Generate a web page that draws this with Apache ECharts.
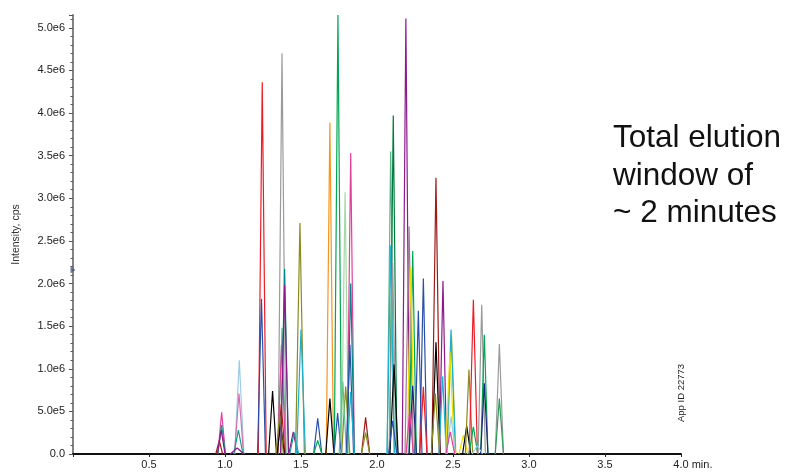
<!DOCTYPE html>
<html>
<head>
<meta charset="utf-8">
<title>Chromatogram</title>
<script src="https://cdn.jsdelivr.net/npm/echarts@6/dist/echarts.min.js"></script>
<style>
  html, body { margin: 0; padding: 0; background: #fff; }
  #chart { width: 791px; height: 474px; }
</style>
</head>
<body>
<div id="chart"></div>
<script>
// peak apex times (min), apex heights (cps), base widths (min)
const peakTimes = [
  0.962, 0.978, 0.978, 0.975, 1.094, 1.092, 1.088, 1.080,
  1.245, 1.240, 1.313, 1.375, 1.375, 1.372, 1.370, 1.366, 1.360, 1.392, 1.392, 1.449, 1.455, 1.493, 1.500,
  1.610, 1.610, 1.690, 1.690, 1.743, 1.741, 1.790, 1.794, 1.775, 1.827, 1.827, 1.822, 1.827, 1.925, 1.925,
  2.090, 2.107, 2.090, 2.103, 2.112, 2.103, 2.190, 2.211, 2.235, 2.222, 2.235, 2.215, 2.272, 2.305, 2.305,
  2.388, 2.388, 2.384, 2.434, 2.432, 2.490, 2.487, 2.480, 2.487, 2.482,
  2.568, 2.590, 2.605, 2.634, 2.634, 2.689, 2.706, 2.706, 2.660, 2.805, 2.805
]
const peakHeights = [
  0.16e6, 0.49e6, 0.34e6, 0.28e6, 1.10e6, 0.71e6, 0.28e6, 0.07e6,
  4.36e6, 1.82e6, 0.74e6, 4.70e6, 1.48e6, 1.28e6, 0.59e6, 0.36e6, 0.46e6, 2.17e6, 1.98e6, 0.26e6, 0.25e6, 2.71e6, 1.46e6,
  0.42e6, 0.16e6, 3.89e6, 0.65e6, 5.15e6, 0.48e6, 3.07e6, 0.79e6, 0.85e6, 3.53e6, 2.00e6, 1.28e6, 0.73e6, 0.43e6, 0.25e6,
  3.55e6, 3.97e6, 2.45e6, 2.24e6, 1.05e6, 0.39e6, 5.11e6, 2.67e6, 2.38e6, 2.19e6, 0.80e6, 0.50e6, 1.68e6, 2.06e6, 0.79e6,
  3.24e6, 1.31e6, 0.71e6, 2.03e6, 0.91e6, 1.40e6, 1.46e6, 1.20e6, 0.44e6, 0.26e6,
  0.22e6, 0.33e6, 0.99e6, 1.81e6, 0.32e6, 1.75e6, 1.40e6, 0.83e6, 0.10e6, 1.29e6, 0.65e6
]
const peakWidths = [
  0.045, 0.050, 0.050, 0.050, 0.060, 0.060, 0.060, 0.090,
  0.052, 0.052, 0.052, 0.052, 0.052, 0.052, 0.048, 0.048, 0.048, 0.052, 0.052, 0.058, 0.058, 0.058, 0.058,
  0.054, 0.054, 0.048, 0.054, 0.048, 0.048, 0.048, 0.054, 0.048, 0.048, 0.048, 0.048, 0.048, 0.054, 0.054,
  0.048, 0.048, 0.048, 0.048, 0.054, 0.054, 0.048, 0.054, 0.048, 0.048, 0.048, 0.048, 0.048, 0.048, 0.048,
  0.054, 0.054, 0.054, 0.048, 0.048, 0.058, 0.058, 0.058, 0.058, 0.058,
  0.058, 0.054, 0.048, 0.054, 0.058, 0.048, 0.048, 0.048, 0.070, 0.054, 0.054
]
const peakColors = [
  '#9b1b1b', '#e0409a', '#1a9a8a', '#8b1a8b', '#9ccbe8', '#d070b0', '#1a9a8a', '#8b1a8b',
  '#ee1c25', '#2b4fa8', '#000000', '#9a9a9a', '#5fc08a', '#e0409a', '#b01818', '#000000', '#8a8a20', '#00858a', '#8b1a8b', '#8b1a8b', '#1a9a8a', '#8a8a20', '#1ab0d0',
  '#2b4fa8', '#00a651', '#f7931e', '#000000', '#00a651', '#2b4fa8', '#a8d8a8', '#8a8a20', '#5fc08a', '#e0409a', '#00858a', '#2b4fa8', '#1ab0d0', '#9b1b1b', '#8a8a20',
  '#5fb38a', '#007a3d', '#1ab0d0', '#9a9a9a', '#000000', '#2b4fa8', '#8b1a8b', '#a07898', '#00a651', '#f0e000', '#1a237e', '#e0409a', '#2b4fa8', '#2b4fa8', '#ee1c25',
  '#9b1b1b', '#000000', '#8a8a20', '#8b1a8b', '#1ab0d0', '#b8c040', '#1ab0d0', '#f0e000', '#9ccbe8', '#e0409a',
  '#f0e000', '#000000', '#8a8a20', '#ee1c25', '#00a651', '#9a9a9a', '#00a651', '#1a237e', '#9ccbe8', '#9a9a9a', '#2e9a5a'
]

const axisMarker = [[0, 2.16e6]]

const xTicks = { min: 0, max: 4, step: 0.5 }
const yTicks = { min: 0, max: 5.15e6, step: 5e5 }

const chart = echarts.init(document.getElementById('chart'), null, { renderer: 'canvas' })

const peakSeries = peakTimes.map((t, i) => ({
  type: 'line',
  data: [[t - peakWidths[i] / 2, 0], [t, peakHeights[i]], [t + peakWidths[i] / 2, 0]],
  symbol: 'none',
  silent: true,
  lineStyle: { color: peakColors[i], width: 1.2 },
  z: 2
}))

const fmtY = v => (v === 0 ? '0.0' : v.toExponential(1).replace('e+', 'e'))
const fmtX = v => {
  if (v === 0) return ''
  if (v === 4) return '{h|min. }4.0 min.'
  return v.toFixed(1)
}

chart.setOption({
  animation: false,
  textStyle: { fontFamily: 'Liberation Sans, Arial, sans-serif' },
  grid: { left: 73, right: 110, top: 15, bottom: 20 },
  xAxis: {
    type: 'value',
    min: xTicks.min,
    max: xTicks.max,
    interval: xTicks.step,
    splitLine: { show: false },
    axisLine: { lineStyle: { color: '#111', width: 2 } },
    axisTick: { length: 3, lineStyle: { color: '#222' } },
    axisLabel: {
      formatter: fmtX,
      color: '#222',
      fontSize: 11,
      margin: 5,
      showMinLabel: true,
      showMaxLabel: true,
      rich: { h: { color: 'transparent', fontSize: 11 } }
    }
  },
  yAxis: {
    type: 'value',
    min: yTicks.min,
    max: yTicks.max,
    interval: yTicks.step,
    name: 'Intensity, cps',
    nameLocation: 'middle',
    nameGap: 51,
    nameTextStyle: { fontSize: 10.5, color: '#333' },
    splitLine: { show: false },
    axisLine: { show: true, lineStyle: { color: '#777', width: 1.8 } },
    axisTick: { length: 4, lineStyle: { color: '#555' } },
    minorTick: { show: true, splitNumber: 5, length: 2.5, lineStyle: { color: '#555' } },
    axisLabel: { formatter: fmtY, color: '#222', fontSize: 11, margin: 8, showMaxLabel: false }
  },
  series: [
    ...peakSeries,
    {
      type: 'scatter',
      data: axisMarker,
      symbol: 'triangle',
      symbolSize: [7, 5],
      symbolRotate: -90,
      clip: false,
      silent: true,
      itemStyle: { color: '#4a5a80' },
      z: 5
    }
  ],
  graphic: [
    {
      type: 'text',
      left: 613,
      top: 120,
      style: {
        text: 'Total elution\nwindow of\n~ 2 minutes',
        font: '31.5px "Liberation Sans", Arial, sans-serif',
        lineHeight: 37.5,
        fill: '#111'
      }
    },
    {
      type: 'text',
      x: 681,
      y: 393,
      rotation: Math.PI / 2,
      style: {
        text: 'App ID 22773',
        font: '9.5px "Liberation Sans", Arial, sans-serif',
        fill: '#222',
        align: 'center',
        verticalAlign: 'middle'
      }
    }
  ]
})
</script>
</body>
</html>
